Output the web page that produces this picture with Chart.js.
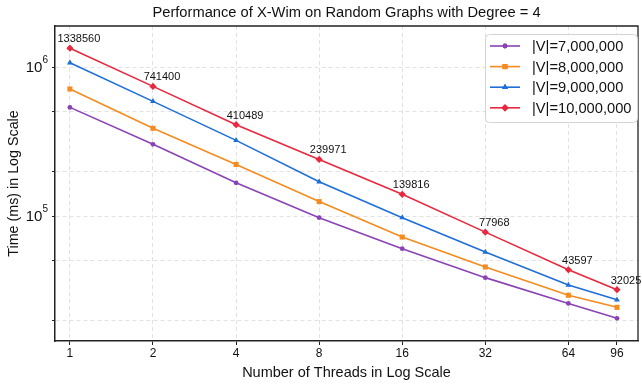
<!DOCTYPE html>
<html>
<head>
<meta charset="utf-8">
<script src="https://cdn.jsdelivr.net/npm/chart.js@4.4.0/dist/chart.umd.min.js"></script>
<style>
  html, body { margin: 0; padding: 0; background: #fff; }
  #wrap { width: 642px; height: 385px; }
</style>
</head>
<body>
<div id="wrap"><canvas id="perfChart" width="642" height="385"></canvas></div>
<script>
// Number of threads (x axis, log scale)
const threads = [1, 2, 4, 8, 16, 32, 64, 96];
// Running time in ms for each graph size
const time7M  = [536000, 303000, 167000, 97500, 60400, 38600, 25900, 20600];
const time8M  = [712000, 388000, 222000, 125000, 72300, 45500, 29400, 24400];
const time9M  = [1069000, 588000, 322000, 170000, 97500, 57300, 34400, 27400];
const time10M = [1338560, 741400, 410489, 239971, 139816, 77968, 43597, 32025];
const seriesNames = ['|V|=7,000,000', '|V|=8,000,000', '|V|=9,000,000', '|V|=10,000,000'];
// Y ticks: labelled decades and unlabelled minor ones
const yMajorTicks = [1e5, 1e6];
const yMinorTicks = [2e4, 5e4, 2e5, 5e5];

const fontFamily = '"Liberation Sans", Arial, sans-serif';
const colors = ['#8a43b5', '#f68b1f', '#1e6fd9', '#e8283f'];
const markers = ['circle', 'rect', 'triangle', 'rectRot'];
const markerSize = [2.4, 3.6, 3.4, 3.6];
const seriesValues = [time7M, time8M, time9M, time10M];

Chart.defaults.font.family = fontFamily;
Chart.defaults.color = '#111';

function toPoints(values) {
  return threads.map((t, i) => ({ x: t, y: values[i] }));
}

// Title, frame, y labels with exponents, value labels, legend
const extras = {
  id: 'extras',
  afterDatasetsDraw(chart) {
    const ctx = chart.ctx;
    const meta = chart.getDatasetMeta(3);
    ctx.save();
    ctx.font = '11px ' + fontFamily;
    ctx.fillStyle = '#111';
    ctx.textAlign = 'center';
    ctx.textBaseline = 'middle';
    meta.data.forEach((pt, i) => {
      ctx.fillText(String(time10M[i]), pt.x + 9, pt.y - 9);
    });
    ctx.restore();
  },
  afterDraw(chart) {
    const ctx = chart.ctx;
    const area = chart.chartArea;
    const yScale = chart.scales.y;
    ctx.save();

    // title
    ctx.font = '14.7px ' + fontFamily;
    ctx.fillStyle = '#111';
    ctx.textAlign = 'center';
    ctx.textBaseline = 'middle';
    ctx.fillText('Performance of X-Wim on Random Graphs with Degree = 4', (area.left + area.right) / 2, 13);

    // top and right frame
    ctx.strokeStyle = '#222';
    ctx.lineWidth = 1.3;
    ctx.beginPath();
    ctx.moveTo(area.left, area.top);
    ctx.lineTo(area.right, area.top);
    ctx.lineTo(area.right, area.bottom);
    ctx.stroke();

    // y tick labels as 10^n
    ctx.textAlign = 'right';
    yMajorTicks.forEach(v => {
      const y = yScale.getPixelForValue(v);
      const exp = String(Math.round(Math.log10(v)));
      const right = area.left - 7;
      ctx.font = '10px ' + fontFamily;
      const ew = ctx.measureText(exp).width;
      ctx.fillText(exp, right, y - 7);
      ctx.font = '15px ' + fontFamily;
      ctx.fillText('10', right - ew, y + 1);
    });

    // legend
    const x0 = area.right - 153, y0 = area.top + 8, w = 152, h = 88;
    ctx.fillStyle = 'rgba(255,255,255,0.9)';
    ctx.strokeStyle = '#d4d4d4';
    ctx.lineWidth = 1;
    ctx.beginPath();
    ctx.roundRect(x0 + 0.5, y0 + 0.5, w, h, 4);
    ctx.fill();
    ctx.stroke();
    ctx.font = '14.7px ' + fontFamily;
    ctx.textAlign = 'left';
    ctx.textBaseline = 'middle';
    seriesNames.forEach((name, i) => {
      const y = y0 + 12 + i * 20.6;
      ctx.strokeStyle = colors[i];
      ctx.lineWidth = 1.6;
      ctx.beginPath();
      ctx.moveTo(x0 + 5, y);
      ctx.lineTo(x0 + 35, y);
      ctx.stroke();
      ctx.fillStyle = colors[i];
      if (Chart.helpers && Chart.helpers.drawPoint) {
        Chart.helpers.drawPoint(ctx, { pointStyle: markers[i], rotation: 0, radius: markerSize[i], borderWidth: 0 }, x0 + 20, y);
        ctx.fill();
      }
      ctx.fillStyle = '#111';
      ctx.fillText(name, x0 + 47, y + 1);
    });
    ctx.restore();
  }
};

new Chart(document.getElementById('perfChart'), {
  type: 'line',
  data: {
    datasets: seriesValues.map((vals, i) => ({
      label: seriesNames[i],
      data: toPoints(vals),
      borderColor: colors[i],
      backgroundColor: colors[i],
      pointBackgroundColor: colors[i],
      pointBorderColor: colors[i],
      pointStyle: markers[i],
      pointRadius: markerSize[i],
      pointBorderWidth: 0,
      borderWidth: 1.6,
      tension: 0
    }))
  },
  options: {
    responsive: false,
    animation: false,
    layout: { padding: { top: 26, right: 1, left: 0, bottom: 0 } },
    plugins: {
      legend: { display: false },
      title: { display: false },
      tooltip: { enabled: false }
    },
    scales: {
      x: {
        type: 'logarithmic',
        min: 0.883,
        max: 114.4,
        afterBuildTicks: s => { s.ticks = threads.map(v => ({ value: v })); },
        afterFit: s => { s.height = 44; },
        ticks: {
          autoSkip: false,
          maxRotation: 0,
          padding: 1,
          font: { size: 12 },
          color: '#111',
          callback: v => String(v)
        },
        grid: {
          color: '#e2e2e2',
          tickColor: '#222',
          tickLength: 4,
          tickBorderDash: []
        },
        border: { color: '#222', width: 1.5, dash: [4, 3] },
        title: {
          display: true,
          text: 'Number of Threads in Log Scale',
          font: { size: 14.5 },
          color: '#111',
          padding: { top: 0, bottom: 3 }
        }
      },
      y: {
        type: 'logarithmic',
        min: 14500,
        max: 1885000,
        afterBuildTicks: s => {
          s.ticks = yMinorTicks.concat(yMajorTicks).sort((a, b) => a - b).map(v => ({ value: v }));
        },
        afterFit: s => { s.width = 55; },
        ticks: { callback: () => '' },
        grid: {
          color: '#e2e2e2',
          tickColor: '#222',
          tickLength: 3,
          tickBorderDash: []
        },
        border: { color: '#222', width: 1.5, dash: [4, 3] },
        title: {
          display: true,
          text: 'Time (ms) in Log Scale',
          font: { size: 14.3 },
          color: '#111',
          padding: { top: 5, bottom: 0 }
        }
      }
    }
  },
  plugins: [extras]
});
</script>
</body>
</html>
